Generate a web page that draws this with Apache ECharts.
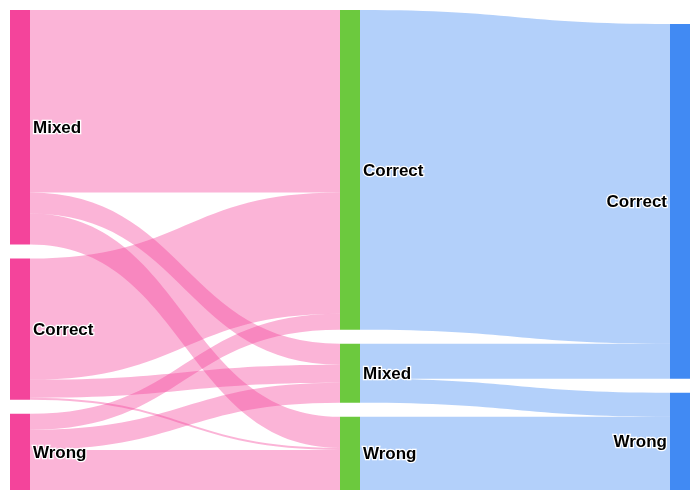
<!DOCTYPE html>
<html>
<head>
<meta charset="utf-8">
<script src="https://cdn.jsdelivr.net/npm/echarts@6/dist/echarts.min.js"></script>
<style>
  html, body { margin: 0; padding: 0; background: #fff; }
  #chart { width: 700px; height: 500px; }
</style>
</head>
<body>
<div id="chart"></div>
<script>
const LEFT_NODES = ["Mixed", "Correct", "Wrong"];
const MID_NODES = ["Correct", "Mixed", "Wrong"];
const RIGHT_NODES = ["Correct", "Wrong"];

// rows: left node, cols: middle node
const LEFT_TO_MID = [
  [182, 21, 31],
  [121, 18, 2],
  [16, 20, 40],
];

// rows: middle node, cols: right node
const MID_TO_RIGHT = [
  [319, 0],
  [35, 24],
  [0, 73],
];

const PINK = "#f4449b";
const GREEN = "#6cc93e";
const BLUE = "#418af3";

function nodeId(level, name) {
  return `${level}:${name}`;
}

const nodes = [
  ...LEFT_NODES.map((name) => ({
    name: nodeId(0, name),
    itemStyle: { color: PINK },
    label: { position: "right" },
  })),
  ...MID_NODES.map((name) => ({
    name: nodeId(1, name),
    itemStyle: { color: GREEN },
    label: { position: "right" },
  })),
  ...RIGHT_NODES.map((name) => ({
    name: nodeId(2, name),
    itemStyle: { color: BLUE },
    label: { position: "left" },
  })),
];

const links = [];

LEFT_TO_MID.forEach((row, i) => {
  row.forEach((value, j) => {
    if (value > 0) {
      links.push({
        source: nodeId(0, LEFT_NODES[i]),
        target: nodeId(1, MID_NODES[j]),
        value,
        lineStyle: { color: PINK },
      });
    }
  });
});

MID_TO_RIGHT.forEach((row, i) => {
  row.forEach((value, j) => {
    if (value > 0) {
      links.push({
        source: nodeId(1, MID_NODES[i]),
        target: nodeId(2, RIGHT_NODES[j]),
        value,
        lineStyle: { color: BLUE },
      });
    }
  });
});

const chart = echarts.init(document.getElementById("chart"));

chart.setOption({
  animation: false,
  series: [
    {
      type: "sankey",
      left: 10,
      right: 10,
      top: 10,
      bottom: 10,
      nodeWidth: 20,
      nodeGap: 14,
      draggable: false,
      emphasis: { disabled: true },
      data: nodes,
      links,
      label: {
        fontFamily: "Liberation Sans, Arial, sans-serif",
        fontSize: 17,
        fontWeight: "bold",
        color: "#000",
        textBorderColor: "#fff",
        textBorderWidth: 2.5,
        distance: 3,
        offset: [0, 1],
        formatter: (params) => params.name.split(":")[1],
      },
      lineStyle: {
        opacity: 0.4,
        curveness: 0.5,
      },
      itemStyle: {
        borderWidth: 0,
      },
    },
  ],
});
</script>
</body>
</html>
